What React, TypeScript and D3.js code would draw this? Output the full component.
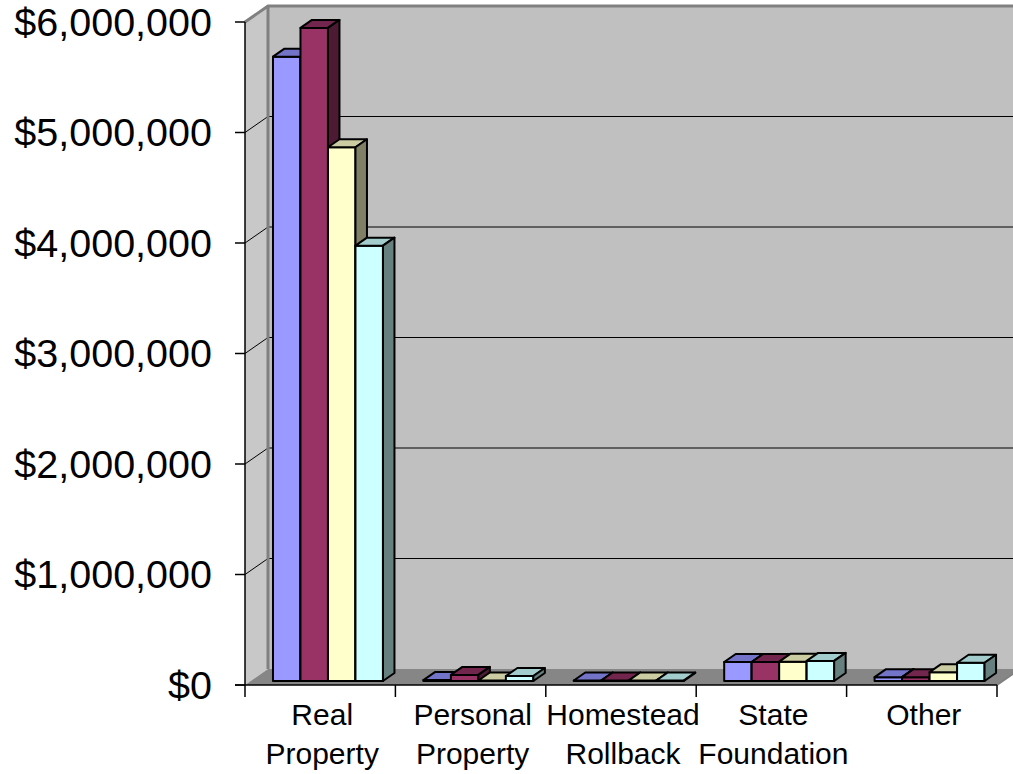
import React from "react";
import * as d3 from "d3";

const categories: string[][] = [
  ["Real", "Property"],
  ["Personal", "Property"],
  ["Homestead", "Rollback"],
  ["State", "Foundation"],
  ["Other"],
];
const categoryKeys = ["Real Property", "Personal Property", "Homestead Rollback", "State Foundation", "Other"];
const seriesNames = ["S1", "S2", "S3", "S4"];
const series1 = [5650000, 8000, 5000, 172000, 35000];
const series2 = [5910000, 55000, 5000, 172000, 35000];
const series3 = [4830000, 5000, 5000, 175000, 80000];
const series4 = [3940000, 45000, 5000, 182000, 165000];
const seriesValues = [series1, series2, series3, series4];
const yTicks = [0, 1000000, 2000000, 3000000, 4000000, 5000000, 6000000];

const fronts = ["#9999FF", "#993366", "#FFFFCC", "#CCFFFF"];
const tops = ["#7373C8", "#73264D", "#CCCCA3", "#A3CCCC"];
const sides = ["#4D4D80", "#4D1A33", "#808066", "#668080"];

const W = 1013;
const H = 774;
const X0 = 245;
const X1 = 997;
const Y0 = 685;
const Y1 = 22;
const DX = 23;
const DY = -16;

export default function App() {
  const x = d3.scaleBand<string>().domain(categoryKeys).range([X0, X1]).paddingInner(0).paddingOuter(0);
  const y = d3.scaleLinear().domain([0, 6000000]).range([Y0, Y1]);
  const inner = d3
    .scaleBand<string>()
    .domain(seriesNames)
    .range([0, x.bandwidth()])
    .paddingInner(0)
    .paddingOuter(0.735)
    .align(0.55);
  const fmt = (v: number) => "$" + d3.format(",")(v);

  // bar depth from 0.25 to 0.75 of wall depth
  const bd0x = DX * 0.25, bd0y = DY * 0.25;
  const bdx = DX * 0.5, bdy = DY * 0.5;

  const pts = (arr: number[][]) => arr.map((p) => p.join(",")).join(" ");

  const bars: React.ReactNode[] = [];
  categoryKeys.forEach((c, ci) => {
    seriesNames.forEach((s, si) => {
      const v = seriesValues[si][ci];
      const bx = (x(c) as number) + (inner(s) as number) + bd0x;
      const bw = inner.bandwidth();
      const yb = y(0) + bd0y;
      const yt = y(v) + bd0y;
      bars.push(
        <g key={`${ci}-${si}`} stroke="#000" strokeWidth={2} strokeLinejoin="round">
          <rect x={bx} y={yt} width={bw} height={yb - yt} fill={fronts[si]} />
          <polygon
            points={pts([[bx, yt], [bx + bdx, yt + bdy], [bx + bw + bdx, yt + bdy], [bx + bw, yt]])}
            fill={tops[si]}
          />
          <polygon
            points={pts([[bx + bw, yt], [bx + bw + bdx, yt + bdy], [bx + bw + bdx, yb + bdy], [bx + bw, yb]])}
            fill={sides[si]}
          />
        </g>
      );
    });
  });

  return (
    <svg width={W} height={H} style={{ position: "absolute", left: 0, top: 0 }} fontFamily="'Liberation Sans', Arial, sans-serif">
      <rect x={0} y={0} width={W} height={H} fill="#fff" />
      {/* back wall */}
      <polygon points={pts([[X0 + DX, Y1 + DY], [X1 + DX, Y1 + DY], [X1 + DX, Y0 + DY], [X0 + DX, Y0 + DY]])} fill="#C0C0C0" />
      {/* left wall */}
      <polygon points={pts([[X0, Y1], [X0 + DX, Y1 + DY], [X0 + DX, Y0 + DY], [X0, Y0]])} fill="#C8C8C8" />
      {/* floor */}
      <polygon points={pts([[X0, Y0], [X0 + DX, Y0 + DY], [X1 + DX, Y0 + DY], [X1, Y0]])} fill="#868686" />
      {/* gridlines */}
      {yTicks.filter((t) => t > 0 && t < 6000000).map((t) => (
        <polyline key={t} points={pts([[X0, y(t)], [X0 + DX, y(t) + DY], [X1 + DX, y(t) + DY]])} fill="none" stroke="#000" strokeWidth={1} />
      ))}
      {/* wall borders */}
      <polyline points={pts([[X0, Y1], [X0 + DX, Y1 + DY], [X1 + DX, Y1 + DY]])} fill="none" stroke="#808080" strokeWidth={3} />
      <line x1={X0 + DX} y1={Y1 + DY} x2={X0 + DX} y2={Y0 + DY} stroke="#808080" strokeWidth={3} />
      <line x1={X1} y1={Y0} x2={X1 + DX} y2={Y0 + DY} stroke="#808080" strokeWidth={2} />
      {bars}
      {/* y axis */}
      <line x1={X0} y1={Y1} x2={X0} y2={Y0} stroke="#000" strokeWidth={1.5} />
      {yTicks.map((t) => (
        <g key={t}>
          <line x1={X0 - 10} x2={X0} y1={y(t)} y2={y(t)} stroke="#000" strokeWidth={1.5} />
          <text x={212} y={y(t)} dy="0.35em" textAnchor="end" fontSize={39.5} fill="#000">
            {fmt(t)}
          </text>
        </g>
      ))}
      {/* x axis */}
      <line x1={X0 - 10} x2={X1} y1={Y0} y2={Y0} stroke="#000" strokeWidth={1.5} />
      {categoryKeys.map((c) => (
        <line key={c} x1={x(c) as number} x2={x(c) as number} y1={Y0} y2={Y0 + 12} stroke="#000" strokeWidth={1.5} />
      ))}
      <line x1={X1} x2={X1} y1={Y0} y2={Y0 + 12} stroke="#000" strokeWidth={1.5} />
      {categoryKeys.map((c, ci) => (
        <text key={c} x={(x(c) as number) + x.bandwidth() / 2 + 2} y={725} textAnchor="middle" fontSize={30} fill="#000">
          {categories[ci].map((line, li) => (
            <tspan key={li} x={(x(c) as number) + x.bandwidth() / 2 + 2} y={725 + li * 39}>
              {line}
            </tspan>
          ))}
        </text>
      ))}
    </svg>
  );
}
